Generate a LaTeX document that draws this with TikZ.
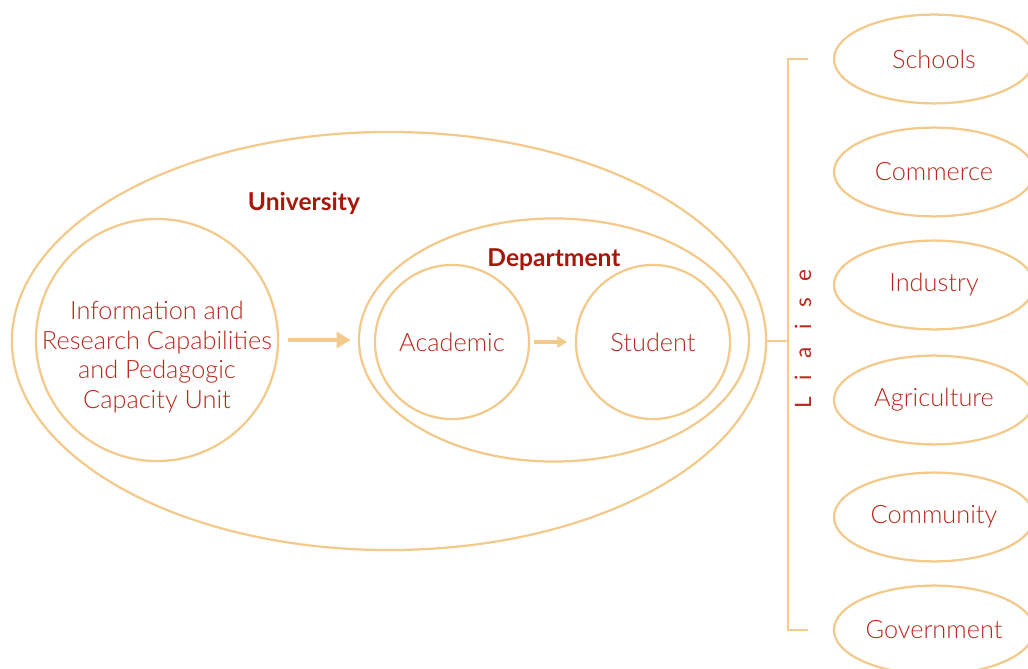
\documentclass[tikz,border=0pt]{standalone}
\usepackage{fontspec}
\setmainfont{Lato}[UprightFont=* Light, BoldFont=* Bold]
\newfontfamily\liaisefont{Lato}
\usetikzlibrary{shapes.geometric,arrows.meta}
\definecolor{linec}{RGB}{242,202,140}
\definecolor{textc}{RGB}{184,40,30}
\definecolor{headc}{RGB}{166,24,10}

\begin{document}
\begin{tikzpicture}[x=0.025cm, y=-0.025cm, line width=1.6pt, inner sep=0pt]
	\tikzstyle{every node}=[align=center, text=textc, font=\fontsize{18}{21}\selectfont]
	\tikzstyle{ring}=[draw=linec, circle]
	\tikzstyle{oval}=[draw=linec, ellipse]
	\tikzstyle{title}=[text=headc, font=\fontsize{17.5}{21}\selectfont\bfseries]
	\tikzstyle{fat}=[draw=linec, line width=3pt, -{Triangle[length=10pt,width=11pt]}]
	\clip (0,0) rectangle (1028,669);

		\node[oval, minimum width=18.85cm, minimum height=10.45cm] (univ) at (389, 341) {};
		\node[title] (unilab) at (304, 203) {University};
		\node[ring, minimum size=6.05cm] (info) at (157, 340) {};
		\node (infolab) at (157, 357) {Information and\\Research Capabilities\\and Pedagogic\\Capacity Unit};
		\node[oval, minimum width=9.75cm, minimum height=6.075cm] (dept) at (554, 340) {};
		\node[title] (deptlab) at (554, 260) {Department};
		\node[ring, minimum size=3.85cm] (acad) at (452, 342) {Academic};
		\node[ring, minimum size=3.85cm] (stud) at (653, 342) {Student};

		\node[oval, minimum width=5cm, minimum height=2.22cm] (school) at (934, 59) {Schools};
		\node[oval, minimum width=5cm, minimum height=2.22cm] (comm)   at (934, 172) {Commerce};
		\node[oval, minimum width=5cm, minimum height=2.22cm] (ind)    at (934, 285) {Industry};
		\node[oval, minimum width=5cm, minimum height=2.22cm] (agri)   at (934, 400) {Agriculture};
		\node[oval, minimum width=5cm, minimum height=2.22cm] (cmty)   at (934, 517) {Community};
		\node[oval, minimum width=5cm, minimum height=2.22cm] (gov)    at (934, 630) {Government};

		\node[rotate=90, font=\fontsize{16}{20}\liaisefont] (liaise) at (803, 339)
			{L\hspace{0.75em}i\hspace{0.75em}a\hspace{0.75em}i\hspace{0.75em}s\hspace{0.75em}e};
		\coordinate (ltop) at (808, 59);
		\coordinate (lt1)  at (788, 59);
		\coordinate (lb1)  at (788, 630);
		\coordinate (lbot) at (808, 630);

		\draw[fat, shorten <=6pt, shorten >=5pt] (info.east) -- (dept.west);
		\draw[fat, line width=2.5pt, -{Triangle[length=7pt,width=8pt]}, shorten <=3pt, shorten >=5.5pt] (acad.east) -- (stud.west);
		\draw[linec] (univ.east) -- (univ.east -| lt1);
		\draw[linec] (ltop) -- (lt1) -- (lb1) -- (lbot);
	\end{tikzpicture}
\end{document}
